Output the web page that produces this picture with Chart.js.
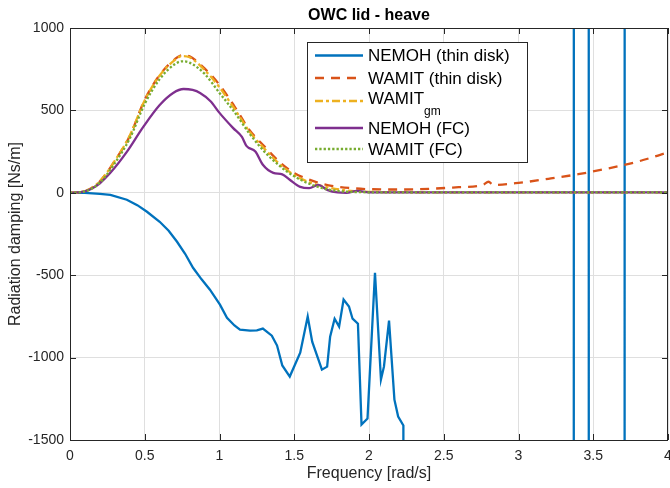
<!DOCTYPE html>
<html><head><meta charset="utf-8">
<script src="https://cdn.jsdelivr.net/npm/chart.js@4/dist/chart.umd.min.js"></script>
<style>html,body{margin:0;padding:0;background:#fff}canvas{display:block}</style>
</head><body>
<canvas id="c" width="670" height="488"></canvas>
<script>
// ---- tick labels ----
const xTickLabels = ['0','0.5','1','1.5','2','2.5','3','3.5','4'];
const yTickLabels = ['-1500','-1000','-500','0','500','1000'];

// ---- legend text ----
const legendLabels = ['NEMOH (thin disk)', 'WAMIT (thin disk)', 'WAMIT', 'NEMOH (FC)', 'WAMIT (FC)'];
const legendSubs   = ['', '', 'gm', '', ''];

// ---- NEMOH (thin disk) ----
const freqNemohThin = [0, 0.1, 0.2, 0.27, 0.38, 0.45, 0.515, 0.6, 0.66, 0.716, 0.77, 0.823, 0.88, 0.936, 1.003, 1.05, 1.1, 1.137, 1.204, 1.25, 1.29, 1.35, 1.385, 1.42, 1.47, 1.54, 1.59, 1.62, 1.685, 1.72, 1.74, 1.77, 1.80, 1.83, 1.866, 1.89, 1.926, 1.95, 1.99, 2.04, 2.08, 2.10, 2.134, 2.17, 2.195, 2.23, 2.25, 3.36, 3.38, 3.46, 3.48, 3.70, 3.72, 4.0];
const dampNemohThin = [0, -1, -6, -12, -42, -75, -115, -176, -230, -297, -370, -455, -525, -588, -679, -758, -805, -830, -836, -835, -824, -867, -927, -1048, -1115, -970, -751, -903, -1073, -1055, -873, -764, -812, -648, -690, -764, -794, -1406, -1370, -485, -1133, -1055, -776, -1255, -1358, -1412, -100000, -100000, 100000, 100000, -100000, -100000, 100000, 100000];

// ---- WAMIT series (common frequencies) ----
const freqWamit = [0, 0.1, 0.2, 0.3, 0.4, 0.5, 0.6, 0.7, 0.75, 0.8, 0.9, 1.0, 1.1, 1.2, 1.3, 1.4, 1.5, 1.6, 1.7, 1.8, 1.9, 2.0, 2.2, 2.4, 2.6, 2.76, 2.8, 2.83, 3.0, 3.2, 3.4, 3.6, 3.8, 4.0];
const dampWamitThin = [0, 10, 70, 195, 345, 565, 715, 810, 835, 828, 755, 655, 525, 382, 282, 188, 120, 80, 52, 36, 27, 22, 20, 24, 34, 47, 67, 48, 60, 85, 113, 148, 190, 245];
const dampWamitGm   = [0, 10, 70, 195, 348, 562, 712, 805, 830, 822, 745, 640, 510, 372, 268, 176, 108, 65, 38, 20, 10, 6, 4, 3, 3, 3, 3, 3, 3, 3, 3, 3, 3, 3];
const dampWamitFC   = [0, 8, 62, 180, 330, 540, 690, 780, 798, 790, 722, 606, 490, 360, 250, 165, 100, 55, 25, 10, 5, 3, 2, 2, 2, 2, 2, 2, 2, 2, 2, 2, 2, 2];

// ---- NEMOH (FC) ----
const freqNemohFC = [0, 0.1, 0.15, 0.2, 0.27, 0.38, 0.49, 0.6, 0.69, 0.76, 0.82, 0.87, 0.94, 1.0, 1.09, 1.15, 1.18, 1.24, 1.29, 1.36, 1.42, 1.47, 1.54, 1.6, 1.66, 1.72, 1.79, 1.85, 1.92, 2.0, 2.5, 3.0, 3.5, 4.0];
const dampNemohFC = [0, 8, 28, 58, 121, 248, 400, 533, 606, 630, 624, 606, 556, 485, 394, 339, 285, 250, 170, 121, 112, 79, 36, 28, 48, 18, 2, 0, 12, 3, 2, 2, 2, 2];

const zip = (xs, ys) => xs.map((x, i) => ({x, y: ys[i]}));
const FONT = '"Liberation Sans", Arial, Helvetica, sans-serif';
const AX = '#262626';

const boxPlugin = {
  id: 'matlabBox',
  afterDatasetsDraw(chart) {
    const {ctx, chartArea: a, scales: {x, y}} = chart;
    ctx.save();
    ctx.strokeStyle = AX; ctx.lineWidth = 1; ctx.setLineDash([]);
    ctx.beginPath();
    ctx.rect(Math.round(a.left) + 0.5, Math.round(a.top) + 0.5, Math.round(a.right - a.left) - 1, Math.round(a.bottom - a.top));
    const tl = 6;
    x.ticks.forEach(t => {
      const px = Math.round(x.getPixelForValue(t.value)) + 0.5;
      ctx.moveTo(px, a.bottom); ctx.lineTo(px, a.bottom - tl);
      ctx.moveTo(px, a.top); ctx.lineTo(px, a.top + tl);
    });
    y.ticks.forEach(t => {
      const py = Math.round(y.getPixelForValue(t.value)) + 0.5;
      ctx.moveTo(a.left, py); ctx.lineTo(a.left + tl, py);
      ctx.moveTo(a.right, py); ctx.lineTo(a.right - tl, py);
    });
    ctx.stroke();
    ctx.restore();
  },
  afterDraw(chart) {
    const ctx = chart.ctx;
    const x0 = 307, y0 = 42, w = 221, h = 121;
    ctx.save();
    ctx.fillStyle = '#fff'; ctx.fillRect(x0, y0, w, h);
    ctx.strokeStyle = AX; ctx.lineWidth = 1; ctx.setLineDash([]);
    ctx.strokeRect(x0 + 0.5, y0 + 0.5, w - 1, h - 1);
    const rows = [55.5, 78, 101, 128, 149];
    const textRows = [56.5, 79, 99.5, 129, 150];
    chart.data.datasets.forEach((ds, i) => {
      ctx.beginPath();
      ctx.setLineDash(ds.borderDash || []);
      ctx.strokeStyle = ds.borderColor; ctx.lineWidth = ds.borderWidth;
      ctx.moveTo(315, rows[i]); ctx.lineTo(363, rows[i]); ctx.stroke();
      ctx.setLineDash([]);
      ctx.fillStyle = '#000'; ctx.textBaseline = 'middle'; ctx.textAlign = 'left';
      ctx.font = '17px ' + FONT;
      ctx.fillText(legendLabels[i], 368, textRows[i]);
      if (legendSubs[i]) {
        const wMain = ctx.measureText(legendLabels[i]).width;
        ctx.font = '12px ' + FONT;
        ctx.fillText(legendSubs[i], 368 + wMain, textRows[i] + 12);
      }
    });
    ctx.restore();
  }
};

const common = {pointRadius: 0, pointHoverRadius: 0, fill: false, clip: 0, borderWidth: 2.3};

new Chart(document.getElementById('c'), {
  type: 'line',
  data: {
    datasets: [
      {...common, label: legendLabels[0], data: zip(freqNemohThin, dampNemohThin), borderColor: '#0072BD', tension: 0, order: 5},
      {...common, label: legendLabels[1], data: zip(freqWamit, dampWamitThin), borderColor: '#D95319', borderDash: [9, 7], cubicInterpolationMode: 'monotone', order: 4},
      {...common, label: legendLabels[2] + legendSubs[2], data: zip(freqWamit, dampWamitGm), borderColor: '#EDB120', borderDash: [8, 3, 3, 3], cubicInterpolationMode: 'monotone', order: 3},
      {...common, label: legendLabels[3], data: zip(freqNemohFC, dampNemohFC), borderColor: '#7E2F8E', cubicInterpolationMode: 'monotone', order: 2},
      {...common, label: legendLabels[4], data: zip(freqWamit, dampWamitFC), borderColor: '#77AC30', borderDash: [2.3, 2], cubicInterpolationMode: 'monotone', order: 1}
    ]
  },
  options: {
    responsive: false,
    animation: false,
    devicePixelRatio: 1,
    layout: {padding: {left: 0, right: 2, top: 0, bottom: 0}},
    plugins: {
      legend: {display: false},
      tooltip: {enabled: false},
      title: {
        display: true, text: 'OWC lid - heave', fullSize: false, color: '#000',
        font: {family: FONT, size: 16, weight: 'bold', lineHeight: 1.2},
        padding: {top: 6, bottom: 2.8}
      }
    },
    scales: {
      x: {
        type: 'linear', min: 0, max: 4,
        afterFit(s) { s.height = 48; s.paddingLeft = 0; s.paddingRight = 0; },
        ticks: {stepSize: 0.5, autoSkip: false, maxRotation: 0, color: AX, padding: 8,
          font: {family: FONT, size: 14},
          callback: (v) => xTickLabels[Math.round(v / 0.5)]},
        grid: {color: '#dfdfdf', drawTicks: false, lineWidth: 1},
        border: {display: false},
        title: {display: true, text: 'Frequency [rad/s]', color: AX, font: {family: FONT, size: 16, lineHeight: 1.2}, padding: {top: 0, bottom: 4.4}}
      },
      y: {
        type: 'linear', min: -1500, max: 1000,
        afterFit(s) { s.width = 70; s.paddingTop = 0; s.paddingBottom = 0; },
        ticks: {stepSize: 500, autoSkip: false, color: AX, padding: 6,
          font: {family: FONT, size: 14},
          callback: (v) => yTickLabels[Math.round((v + 1500) / 500)]},
        grid: {color: '#dfdfdf', drawTicks: false, lineWidth: 1},
        border: {display: false},
        title: {display: true, text: 'Radiation damping [Ns/m]', color: AX, font: {family: FONT, size: 16, lineHeight: 1.2}, padding: {top: 6.4, bottom: 0}}
      }
    }
  },
  plugins: [boxPlugin]
});
</script>
</body></html>
